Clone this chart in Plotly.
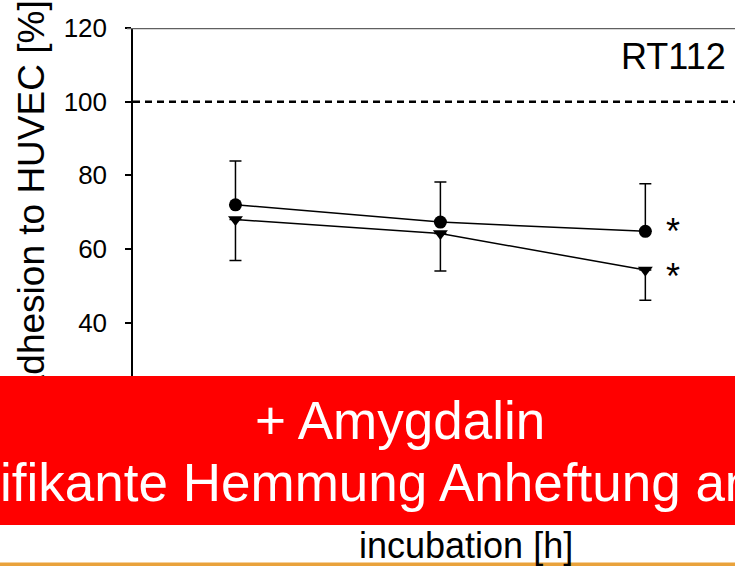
import plotly.graph_objects as go

# ---- data ----
incubation_h = [24, 48, 72]
adhesion_circle = [72.0, 67.3, 64.8]
err_circle_up = [11.9, 10.9, 12.9]
adhesion_triangle = [68.0, 64.2, 54.3]
err_triangle_down = [11.1, 10.2, 8.2]
y_ticks = [0, 20, 40, 60, 80, 100, 120]
control_level = 100
cell_line = "RT112"
y_title = "Adhesion to HUVEC [%]"
x_title = "incubation [h]"
banner_line1 = "+ Amygdalin"
banner_line2 = "Signifikante Hemmung Anheftung an"

# ---- layout geometry (pixels) ----
W, H = 735, 566
L, R, T, B = 133, 0, 27.5, 96
PW, PH = W - L - R, H - T - B

def px(x):
    return (x - L) / PW

def py(y):
    return (H - B - y) / PH

FONT = "Arial, Liberation Sans, sans-serif"

fig = go.Figure()

fig.add_trace(go.Scatter(
    x=incubation_h, y=adhesion_circle, mode="lines+markers",
    line=dict(color="black", width=1.5),
    marker=dict(symbol="circle", size=13, color="black"),
    error_y=dict(type="data", array=err_circle_up, arrayminus=[0]*3,
                 symmetric=False, color="black", thickness=1.5, width=6),
    showlegend=False,
))
fig.add_trace(go.Scatter(
    x=incubation_h, y=adhesion_triangle, mode="lines+markers",
    line=dict(color="black", width=1.5),
    marker=dict(symbol="triangle-down", size=13, color="black"),
    error_y=dict(type="data", array=[0]*3, arrayminus=err_triangle_down,
                 symmetric=False, color="black", thickness=1.5, width=6),
    showlegend=False,
))

shapes = [
    # control level dashed line
    dict(type="line", xref="paper", yref="y", x0=0, x1=1,
         y0=control_level, y1=control_level,
         line=dict(color="black", width=2.5, dash="7px,5px"), layer="above"),
    # top frame line
    dict(type="line", xref="paper", yref="y", x0=px(127), x1=1,
         y0=120, y1=120, line=dict(color="#606060", width=2.5), layer="above"),
    # bottom orange rule
    dict(type="rect", xref="paper", yref="paper", x0=px(-5), x1=px(W + 5),
         y0=py(570), y1=py(562.5), line=dict(width=0),
         fillcolor="#E9A23B", layer="above"),
]

annotations = [
    # y-axis title (drawn first so the banner covers it)
    dict(text=y_title, xref="paper", yref="paper", x=px(31), y=py(200),
         xanchor="center", yanchor="middle", textangle=-90, showarrow=False,
         font=dict(family=FONT, size=37, color="black")),
    # red banner
    dict(text=" ", xref="paper", yref="paper", x=px(W / 2), y=py(450.5),
         xanchor="center", yanchor="middle", showarrow=False,
         width=W + 60, height=149, bgcolor="#FF0000", borderpad=0,
         borderwidth=0, font=dict(size=10)),
    dict(text=banner_line1, xref="paper", yref="paper", x=px(400), y=py(420),
         xanchor="center", yanchor="middle", showarrow=False,
         font=dict(family=FONT, size=53, color="white")),
    dict(text=banner_line2, xref="paper", yref="paper", x=px(-108), y=py(483),
         xanchor="left", yanchor="middle", showarrow=False,
         font=dict(family=FONT, size=53, color="white")),
    # x-axis title
    dict(text=x_title, xref="paper", yref="paper", x=px(466), y=py(546),
         xanchor="center", yanchor="middle", showarrow=False,
         font=dict(family=FONT, size=36, color="black")),
    # cell line label
    dict(text=cell_line, xref="paper", yref="paper", x=px(728), y=py(56),
         xanchor="right", yanchor="middle", showarrow=False,
         font=dict(family=FONT, size=36, color="black")),
    # significance marks
    dict(text="*", x=incubation_h[-1], y=adhesion_circle[-1], xref="x", yref="y",
         xshift=28, yshift=0, showarrow=False,
         font=dict(family=FONT, size=36, color="black")),
    dict(text="*", x=incubation_h[-1], y=adhesion_triangle[-1], xref="x", yref="y",
         xshift=28, yshift=-6, showarrow=False,
         font=dict(family=FONT, size=36, color="black")),
]

fig.update_layout(
    width=W, height=H,
    margin=dict(l=L, r=R, t=T, b=B, pad=0),
    paper_bgcolor="white", plot_bgcolor="white",
    font=dict(family=FONT, color="black"),
    shapes=shapes, annotations=annotations,
    xaxis=dict(range=[12, 82.5], tickvals=incubation_h, showgrid=False,
               zeroline=False, showline=True, linecolor="black", linewidth=1.5,
               ticks="outside", ticklen=6, tickcolor="black",
               tickfont=dict(size=24, color="black")),
    yaxis=dict(range=[0, 120], tickvals=y_ticks, showgrid=False, zeroline=False,
               showline=True, linecolor="black", linewidth=1.5,
               ticks="outside", ticklen=6, tickwidth=1.5, tickcolor="black",
               ticklabelstandoff=13,
               tickfont=dict(size=26, color="black")),
)

fig.write_html("out.html", config={"displayModeBar": False})
